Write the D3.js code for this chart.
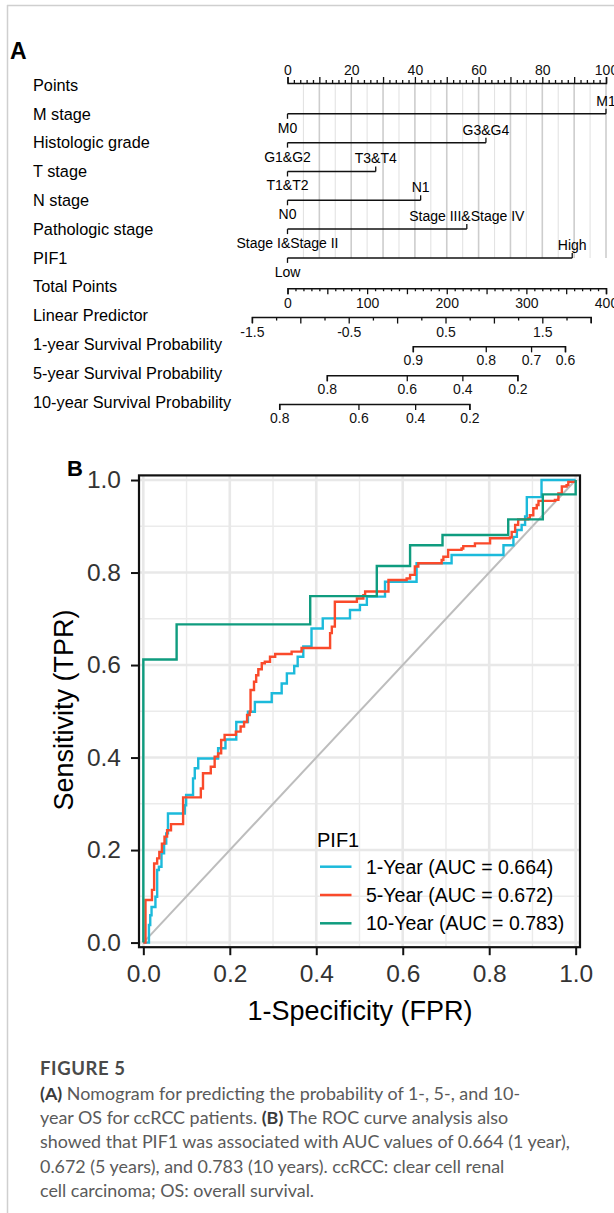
<!DOCTYPE html>
<html>
<head>
<meta charset="utf-8">
<script src="https://cdn.jsdelivr.net/npm/d3@7"></script>
<style>
  body { margin: 0; background: #fff; }
  svg text { font-family: "Liberation Sans", Arial, sans-serif; }
  .caption { font-family: Lato, "Open Sans", sans-serif; }
</style>
</head>
<body>
<div id="chart"></div>
<script>
// ---------- data: nomogram (A) ----------
var rowLabels = ["Points", "M stage", "Histologic grade", "T stage", "N stage",
  "Pathologic stage", "PIF1", "Total Points", "Linear Predictor",
  "1-year Survival Probability", "5-year Survival Probability", "10-year Survival Probability"];

var varNames = ["M stage", "Histologic grade", "T stage", "N stage", "Pathologic stage", "PIF1"];
var varLowLevel = ["M0", "G1&G2", "T1&T2", "N0", "Stage I&Stage II", "Low"];
var varHighLevel = ["M1", "G3&G4", "T3&T4", "N1", "Stage III&Stage IV", "High"];
var varHighPoints = [100, 62.3, 27.7, 41.8, 56.3, 89.4];

var lpTicks = [-1.5, -0.5, 0.5, 1.5];
var lpDomain = [-1.5, 2.0];
var lpAtTotalPoints = [-44.7, 380.8];

var surv1Ticks = [0.9, 0.8, 0.7, 0.6];
var surv1Points = [157.4, 249, 305.9, 348.5];
var surv5Ticks = [0.8, 0.6, 0.4, 0.2];
var surv5Points = [49.4, 149.8, 219.6, 288.7];
var surv10Ticks = [0.8, 0.6, 0.4, 0.2];
var surv10Points = [-10.4, 89.1, 160.3, 228.4];

// ---------- data: ROC curves (B), [FPR, TPR] step corners ----------
var roc1Year = [[0, 0], [0.013, 0.038], [0.016, 0.059], [0.019, 0.077], [0.028, 0.099],
  [0.032, 0.157], [0.036, 0.164], [0.042, 0.193], [0.048, 0.214], [0.053, 0.236],
  [0.057, 0.279], [0.096, 0.297], [0.099, 0.319], [0.115, 0.355], [0.119, 0.377],
  [0.127, 0.398], [0.173, 0.420], [0.190, 0.439], [0.215, 0.477], [0.242, 0.499],
  [0.258, 0.520], [0.297, 0.539], [0.320, 0.560], [0.332, 0.582], [0.349, 0.598],
  [0.357, 0.618], [0.370, 0.640], [0.389, 0.679], [0.415, 0.701], [0.478, 0.719],
  [0.501, 0.730], [0.517, 0.748], [0.559, 0.780], [0.632, 0.820], [0.713, 0.838],
  [0.833, 0.859], [0.856, 0.877], [0.864, 0.892], [0.875, 0.903], [0.883, 0.921],
  [0.887, 0.963], [0.921, 1.0], [1.0, 1.0]];

var roc5Year = [[0, 0], [0.005, 0.092], [0.020, 0.114], [0.025, 0.171], [0.032, 0.182],
  [0.037, 0.196], [0.043, 0.214], [0.049, 0.229], [0.055, 0.243], [0.064, 0.256],
  [0.092, 0.314], [0.133, 0.333], [0.138, 0.366], [0.156, 0.380], [0.165, 0.402],
  [0.173, 0.409], [0.180, 0.438], [0.188, 0.449], [0.214, 0.456], [0.225, 0.467],
  [0.233, 0.477], [0.240, 0.492], [0.246, 0.499], [0.248, 0.546], [0.256, 0.564],
  [0.261, 0.578], [0.266, 0.591], [0.274, 0.604], [0.281, 0.607], [0.293, 0.618],
  [0.305, 0.624], [0.343, 0.629], [0.366, 0.637], [0.432, 0.669], [0.436, 0.683],
  [0.443, 0.737], [0.494, 0.744], [0.509, 0.751], [0.513, 0.759], [0.567, 0.784],
  [0.609, 0.787], [0.617, 0.795], [0.628, 0.813], [0.636, 0.820], [0.690, 0.827],
  [0.694, 0.834], [0.705, 0.849], [0.736, 0.852], [0.740, 0.857], [0.767, 0.863],
  [0.802, 0.874], [0.848, 0.876], [0.852, 0.888], [0.860, 0.903], [0.867, 0.915],
  [0.890, 0.917], [0.894, 0.924], [0.902, 0.939], [0.910, 0.946], [0.914, 0.955],
  [0.952, 0.957], [0.960, 0.971], [0.968, 0.986], [0.979, 0.989], [0.983, 0.996],
  [1.0, 1.0]];

var roc10Year = [[0, 0], [0, 0.612], [0.077, 0.688], [0.386, 0.749], [0.540, 0.814],
  [0.617, 0.859], [0.692, 0.881], [0.844, 0.915], [0.924, 0.969], [1.0, 1.0]];

var legendTitle = "PIF1";
var legendLabels = ["1-Year (AUC = 0.664)", "5-Year (AUC = 0.672)", "10-Year (AUC = 0.783)"];
var rocTicks = [0, 0.2, 0.4, 0.6, 0.8, 1.0];
var colors = ["#1cbadb", "#fa4a2b", "#0f9c7f"];

var captionHead = "FIGURE 5";
var captionLines = [
  [["(A)", true], [" Nomogram for predicting the probability of 1-, 5-, and 10-", false]],
  [["year OS for ccRCC patients. ", false], ["(B)", true], [" The ROC curve analysis also", false]],
  [["showed that PIF1 was associated with AUC values of 0.664 (1 year),", false]],
  [["0.672 (5 years), and 0.783 (10 years). ccRCC: clear cell renal", false]],
  [["cell carcinoma; OS: overall survival.", false]]
];

// ---------- svg ----------
var svgWidth = 614;
var svgHeight = 1213;

var svg = d3.select("#chart")
  .append("svg")
  .attr("width", svgWidth)
  .attr("height", svgHeight);

svg.append("rect").attr("width", svgWidth).attr("height", svgHeight).attr("fill", "#fff");

// page frame
svg.append("line").attr("x1", 7).attr("x2", svgWidth).attr("y1", 5.5).attr("y2", 5.5)
  .attr("stroke", "#cfcfcf").attr("stroke-width", 1.5);
svg.append("line").attr("x1", 7.5).attr("x2", 7.5).attr("y1", 5).attr("y2", svgHeight)
  .attr("stroke", "#cfcfcf").attr("stroke-width", 1.5);

// ================= Panel A: nomogram =================
svg.append("text").attr("x", 10).attr("y", 59).text("A")
  .attr("font-size", 23).attr("font-weight", "bold");

var rowY = d3.scalePoint().domain(rowLabels).range([85, 402]);
var pointsX = d3.scaleLinear().domain([0, 100]).range([287.5, 606]);
var totalX = d3.scaleLinear().domain([0, 400]).range([287.5, 606]);
var lpX = d3.scaleLinear().domain(lpDomain).range(lpAtTotalPoints.map(totalX));

var nomo = svg.append("g").attr("font-size", 14);

// row labels
nomo.selectAll(".rowlabel")
  .data(rowLabels)
  .enter()
  .append("text")
  .attr("x", 33)
  .attr("y", d => rowY(d))
  .attr("dy", "0.35em")
  .attr("font-size", 16.3)
  .text(d => d);

// vertical reference lines every 5 points
var gridTop = rowY("Points") - 2;
var gridBottom = rowY("PIF1");
nomo.append("g")
  .selectAll("line")
  .data(d3.range(5, 101, 5))
  .enter()
  .append("line")
  .attr("x1", d => pointsX(d))
  .attr("x2", d => pointsX(d))
  .attr("y1", gridTop)
  .attr("y2", gridBottom)
  .attr("stroke", d => d % 10 === 0 ? "#cdcdcd" : "#e3e3e3")
  .attr("stroke-width", d => d % 10 === 0 ? 1.6 : 1.1);

// helper to style a nomogram axis
function styleAxis(g, sizeFn, up) {
  g.select(".domain").attr("stroke", "#111").attr("stroke-width", 1.5);
  g.selectAll(".tick line")
    .attr("stroke", "#111")
    .attr("stroke-width", 1.3)
    .attr("y2", d => (up ? -1 : 1) * sizeFn(d));
  g.selectAll(".tick text").attr("fill", "#111").attr("font-size", 14)
    .attr("font-family", "Liberation Sans, Arial, sans-serif");
}

// Points axis (top)
var pointsAxis = d3.axisTop(pointsX)
  .tickValues(d3.range(0, 101, 2))
  .tickSizeOuter(0)
  .tickSize(6)
  .tickPadding(2)
  .tickFormat(d => d % 20 === 0 ? d : "");
var gPoints = nomo.append("g")
  .attr("transform", `translate(0, ${rowY("Points") - 2})`)
  .call(pointsAxis);
styleAxis(gPoints, d => d % 10 === 0 ? 6 : 3, true);

// categorical variables
varNames.forEach(function(name, i) {
  var y = rowY(name);
  var g = nomo.append("g");
  var x0 = pointsX(0);
  var x1 = pointsX(varHighPoints[i]);
  g.append("line").attr("x1", x0).attr("x2", x1).attr("y1", y).attr("y2", y)
    .attr("stroke", "#111").attr("stroke-width", 1.5);
  g.append("line").attr("x1", x0).attr("x2", x0).attr("y1", y).attr("y2", y + 5)
    .attr("stroke", "#111").attr("stroke-width", 1.3);
  g.append("line").attr("x1", x1).attr("x2", x1).attr("y1", y).attr("y2", y - 5)
    .attr("stroke", "#111").attr("stroke-width", 1.3);
  g.append("text").attr("x", x0).attr("y", y + 14).attr("dy", "0.35em")
    .attr("text-anchor", "middle").text(varLowLevel[i]);
  g.append("text").attr("x", x1).attr("y", y - 13).attr("dy", "0.35em")
    .attr("text-anchor", "middle").text(varHighLevel[i]);
});

// Total Points axis
var totalAxis = d3.axisBottom(totalX)
  .tickValues(d3.range(0, 401, 10))
  .tickSizeOuter(0)
  .tickSize(6)
  .tickPadding(4)
  .tickFormat(d => d % 100 === 0 ? d : "");
var gTotal = nomo.append("g")
  .attr("transform", `translate(0, ${rowY("Total Points") + 1.5})`)
  .call(totalAxis);
styleAxis(gTotal, d => d % 50 === 0 ? 6 : 3, false);

// Linear Predictor axis
var lpAxis = d3.axisBottom(lpX)
  .tickValues(d3.range(-6, 9).map(d => d / 4))
  .tickSizeOuter(0)
  .tickSize(6)
  .tickPadding(4)
  .tickFormat(d => lpTicks.indexOf(d) >= 0 ? d.toFixed(1) : "");
var gLp = nomo.append("g")
  .attr("transform", `translate(0, ${rowY("Linear Predictor") + 1.5})`)
  .call(lpAxis);
styleAxis(gLp, d => Math.round(d * 4) % 2 === 0 ? 6.5 : 3.5, false);

// survival probability axes
function survivalAxis(label, ticks, pts) {
  var scale = d3.scaleLinear().domain(ticks).range(pts.map(totalX));
  var axis = d3.axisBottom(scale)
    .tickValues(ticks)
    .tickSizeOuter(0)
    .tickSize(6)
    .tickPadding(3)
    .tickFormat(d3.format(".1f"));
  var g = nomo.append("g")
    .attr("transform", `translate(0, ${rowY(label) + 2})`)
    .call(axis);
  styleAxis(g, d => 6, false);
}
survivalAxis("1-year Survival Probability", surv1Ticks, surv1Points);
survivalAxis("5-year Survival Probability", surv5Ticks, surv5Points);
survivalAxis("10-year Survival Probability", surv10Ticks, surv10Points);

// ================= Panel B: ROC =================
var rocX = d3.scaleLinear().domain([-0.01, 1.01]).range([139, 580]);
var rocY = d3.scaleLinear().domain([-0.01, 1.01]).range([947.2, 475.4]);

svg.append("text").attr("x", 67).attr("y", 476).text("B")
  .attr("font-size", 22).attr("font-weight", "bold");

var roc = svg.append("g");

// grid lines
var minorTicks = [0.1, 0.3, 0.5, 0.7, 0.9];
roc.append("g").selectAll("line").data(minorTicks).enter().append("line")
  .attr("x1", d => rocX(d)).attr("x2", d => rocX(d))
  .attr("y1", rocY.range()[0]).attr("y2", rocY.range()[1])
  .attr("stroke", "#ebebeb").attr("stroke-width", 1.4);
roc.append("g").selectAll("line").data(minorTicks).enter().append("line")
  .attr("y1", d => rocY(d)).attr("y2", d => rocY(d))
  .attr("x1", rocX.range()[0]).attr("x2", rocX.range()[1])
  .attr("stroke", "#ebebeb").attr("stroke-width", 1.4);
roc.append("g").selectAll("line").data(rocTicks).enter().append("line")
  .attr("x1", d => rocX(d)).attr("x2", d => rocX(d))
  .attr("y1", rocY.range()[0]).attr("y2", rocY.range()[1])
  .attr("stroke", "#e8e8e8").attr("stroke-width", 2.6);
roc.append("g").selectAll("line").data(rocTicks).enter().append("line")
  .attr("y1", d => rocY(d)).attr("y2", d => rocY(d))
  .attr("x1", rocX.range()[0]).attr("x2", rocX.range()[1])
  .attr("stroke", "#e8e8e8").attr("stroke-width", 2.6);

// reference diagonal
roc.append("line")
  .attr("x1", rocX(0)).attr("y1", rocY(0))
  .attr("x2", rocX(1)).attr("y2", rocY(1))
  .attr("stroke", "#bdbdbd").attr("stroke-width", 2);

// curves
var stepLine = d3.line()
  .x(d => rocX(d[0]))
  .y(d => rocY(d[1]))
  .curve(d3.curveStepAfter);

[roc1Year, roc5Year, roc10Year].forEach(function(series, i) {
  roc.append("path")
    .datum(series)
    .attr("d", stepLine)
    .attr("fill", "none")
    .attr("stroke", colors[i])
    .attr("stroke-width", 2.4);
});

// panel border
roc.append("rect")
  .attr("x", rocX.range()[0]).attr("y", rocY.range()[1])
  .attr("width", rocX.range()[1] - rocX.range()[0])
  .attr("height", rocY.range()[0] - rocY.range()[1])
  .attr("fill", "none").attr("stroke", "#111").attr("stroke-width", 2.2);

// axes
var xAxis = d3.axisBottom(rocX).tickValues(rocTicks).tickSize(8).tickPadding(9)
  .tickSizeOuter(0).tickFormat(d3.format(".1f"));
var yAxis = d3.axisLeft(rocY).tickValues(rocTicks).tickSize(8).tickPadding(10)
  .tickSizeOuter(0).tickFormat(d3.format(".1f"));

var gx = roc.append("g").attr("transform", `translate(0, ${rocY.range()[0]})`).call(xAxis);
var gy = roc.append("g").attr("transform", `translate(${rocX.range()[0]}, 0)`).call(yAxis);
[gx, gy].forEach(function(g) {
  g.select(".domain").remove();
  g.selectAll(".tick line").attr("stroke", "#111").attr("stroke-width", 2);
  g.selectAll(".tick text").attr("fill", "#333").attr("font-size", 24.5)
    .attr("font-family", "Liberation Sans, Arial, sans-serif");
});

// axis titles
roc.append("text")
  .attr("x", 360).attr("y", 1011).attr("dy", "0.35em")
  .attr("text-anchor", "middle").attr("font-size", 27)
  .text("1-Specificity (FPR)");
roc.append("text")
  .attr("transform", "translate(64, 710) rotate(-90)")
  .attr("dy", "0.35em")
  .attr("text-anchor", "middle").attr("font-size", 27)
  .text("Sensitivity (TPR)");

// legend
var legend = roc.append("g");
legend.append("text").attr("x", 317).attr("y", 840).attr("dy", "0.35em")
  .attr("font-size", 20).text(legendTitle);
legendLabels.forEach(function(label, i) {
  var y = 866.7 + i * 28.3;
  legend.append("line").attr("x1", 320).attr("x2", 351.5).attr("y1", y).attr("y2", y)
    .attr("stroke", colors[i]).attr("stroke-width", 2.5);
  legend.append("text").attr("x", 366).attr("y", y).attr("dy", "0.35em")
    .attr("font-size", 19.5).text(label);
});

// ================= caption =================
svg.append("text").attr("class", "caption")
  .attr("x", 40).attr("y", 1069).attr("dy", "0.35em")
  .attr("font-size", 18.5).attr("font-weight", "bold").attr("fill", "#4a4a4a")
  .attr("letter-spacing", 0.6)
  .text(captionHead);

captionLines.forEach(function(parts, i) {
  var t = svg.append("text").attr("class", "caption")
    .attr("x", 40).attr("y", 1093.5 + i * 24.3).attr("dy", "0.35em")
    .attr("font-size", 17.9).attr("fill", "#5a5a5a");
  parts.forEach(function(p) {
    t.append("tspan")
      .attr("font-weight", p[1] ? "bold" : "normal")
      .attr("fill", p[1] ? "#3a3a3a" : "#5a5a5a")
      .text(p[0]);
  });
});
</script>
</body>
</html>
